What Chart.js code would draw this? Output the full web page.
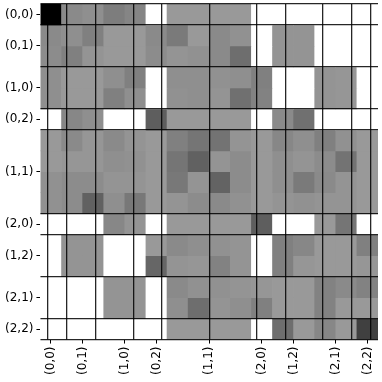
<!DOCTYPE html>
<html>
<head>
<meta charset="utf-8">
<script src="https://cdn.jsdelivr.net/npm/chart.js@4.4.1/dist/chart.umd.min.js"></script>
<style>
  html, body { margin: 0; padding: 0; background: #fff; }
  #wrap { width: 382px; height: 382px; }
</style>
</head>
<body>
<div id="wrap"><canvas id="matrix"></canvas></div>
<script>
// block labels and how many rows/cols each block spans
const blockLabels = ['(0,0)', '(0,1)', '(1,0)', '(0,2)', '(1,1)', '(2,0)', '(1,2)', '(2,1)', '(2,2)'];
const blockSizes = [1, 2, 2, 1, 4, 1, 2, 2, 1];

// cell intensities (0 = white, 1 = black), one array per row
const row0  = [1.00, 0.46, 0.44, 0.51, 0.48, 0, 0.40, 0.40, 0.40, 0.40, 0, 0, 0, 0, 0, 0];
const row1  = [0.46, 0.44, 0.50, 0.40, 0.40, 0.46, 0.52, 0.40, 0.46, 0.43, 0, 0.42, 0.42, 0, 0, 0];
const row2  = [0.45, 0.50, 0.42, 0.40, 0.40, 0.45, 0.42, 0.43, 0.46, 0.57, 0, 0.42, 0.42, 0, 0, 0];
const row3  = [0.44, 0.40, 0.40, 0.44, 0.50, 0, 0.44, 0.44, 0.43, 0.44, 0.50, 0, 0, 0.42, 0.41, 0];
const row4  = [0.44, 0.40, 0.40, 0.50, 0.44, 0, 0.43, 0.44, 0.42, 0.56, 0.49, 0, 0, 0.42, 0.41, 0];
const row5  = [0, 0.47, 0.44, 0, 0, 0.63, 0.40, 0.40, 0.40, 0.40, 0, 0.46, 0.56, 0, 0, 0];
const row6  = [0.40, 0.46, 0.41, 0.46, 0.42, 0.40, 0.50, 0.54, 0.55, 0.42, 0.40, 0.47, 0.44, 0.50, 0.43, 0.40];
const row7  = [0.40, 0.41, 0.41, 0.44, 0.43, 0.40, 0.54, 0.62, 0.42, 0.45, 0.40, 0.44, 0.42, 0.45, 0.55, 0.40];
const row8  = [0.43, 0.45, 0.45, 0.42, 0.42, 0.40, 0.53, 0.42, 0.61, 0.45, 0.40, 0.44, 0.52, 0.46, 0.42, 0.40];
const row9  = [0.43, 0.45, 0.62, 0.44, 0.53, 0.40, 0.42, 0.45, 0.46, 0.43, 0.40, 0.42, 0.43, 0.42, 0.42, 0.40];
const row10 = [0, 0, 0, 0.47, 0.42, 0, 0.40, 0.40, 0.40, 0.40, 0.63, 0, 0, 0.40, 0.54, 0];
const row11 = [0, 0.42, 0.42, 0, 0, 0.40, 0.46, 0.44, 0.43, 0.42, 0, 0.50, 0.47, 0.40, 0.40, 0.50];
const row12 = [0, 0.42, 0.42, 0, 0, 0.60, 0.42, 0.41, 0.49, 0.42, 0, 0.50, 0.41, 0.40, 0.40, 0.41];
const row13 = [0, 0, 0, 0.42, 0.42, 0, 0.46, 0.43, 0.43, 0.42, 0.41, 0.40, 0.40, 0.49, 0.46, 0.49];
const row14 = [0, 0, 0, 0.42, 0.42, 0, 0.44, 0.57, 0.42, 0.44, 0.50, 0.40, 0.40, 0.49, 0.40, 0.40];
const row15 = [0, 0, 0, 0, 0, 0, 0.40, 0.40, 0.40, 0.40, 0, 0.57, 0.40, 0.47, 0.40, 0.75];

const rows = [row0, row1, row2, row3, row4, row5, row6, row7, row8, row9,
              row10, row11, row12, row13, row14, row15];
const n = rows.length;

// block edges and centres in cell units
const edges = [0];
const centres = [];
blockSizes.forEach(s => {
    const start = edges[edges.length - 1];
    centres.push(start + s / 2);
    edges.push(start + s);
});

// gray_r colormap
function grayColor(v) {
    const g = Math.round(255 * (1 - v));
    return 'rgb(' + g + ',' + g + ',' + g + ')';
}

const datasets = rows.map((vals, r) => ({
    data: vals.map((v, c) => ({ x: c + 0.5, y: [r, r + 1] })),
    backgroundColor: vals.map(grayColor),
    borderWidth: 0,
    borderSkipped: false,
    grouped: false,
    barPercentage: 1,
    categoryPercentage: 1
}));

const font = { family: 'DejaVu Sans', size: 12 };
const lineColor = 'rgba(0,0,0,0.85)';

// labels sit at block centres, so no extra room is needed at the ends
function noEdgePadding(axis) {
    axis.paddingTop = 0;
    axis.paddingBottom = 0;
    axis.paddingLeft = 0;
    axis.paddingRight = 0;
}

new Chart(document.getElementById('matrix'), {
    type: 'bar',
    data: { datasets: datasets },
    options: {
        responsive: true,
        maintainAspectRatio: false,
        animation: false,
        layout: { padding: { left: 2, right: 4, top: 4, bottom: 4 } },
        plugins: { legend: { display: false }, tooltip: { enabled: false } },
        scales: {
            x: {
                type: 'linear',
                min: 0, max: n,
                offset: false,
                afterBuildTicks: axis => { axis.ticks = centres.map(v => ({ value: v })); },
                afterFit: noEdgePadding,
                ticks: {
                    autoSkip: false,
                    minRotation: 90, maxRotation: 90,
                    padding: 3,
                    color: '#000',
                    font: font,
                    callback: (v, i) => blockLabels[i]
                },
                grid: { drawOnChartArea: false, drawTicks: true, tickLength: 4, color: '#000', offset: false },
                border: { display: false }
            },
            y: {
                type: 'linear',
                min: 0, max: n,
                reverse: true,
                afterBuildTicks: axis => { axis.ticks = centres.map(v => ({ value: v })); },
                afterFit: noEdgePadding,
                ticks: {
                    autoSkip: false,
                    padding: 3,
                    color: '#000',
                    font: font,
                    callback: (v, i) => blockLabels[i]
                },
                grid: { drawOnChartArea: false, drawTicks: true, tickLength: 4, color: '#000' },
                border: { display: false }
            },
            // block separators
            x2: {
                type: 'linear',
                position: 'top',
                min: 0, max: n,
                afterBuildTicks: axis => { axis.ticks = edges.map(v => ({ value: v })); },
                afterFit: noEdgePadding,
                ticks: { display: false },
                grid: { drawTicks: false, color: lineColor, lineWidth: 1.3, z: 1 },
                border: { display: false }
            },
            y2: {
                type: 'linear',
                position: 'right',
                min: 0, max: n,
                reverse: true,
                afterBuildTicks: axis => { axis.ticks = edges.map(v => ({ value: v })); },
                afterFit: noEdgePadding,
                ticks: { display: false },
                grid: { drawTicks: false, color: lineColor, lineWidth: 1.3, z: 1 },
                border: { display: false }
            }
        }
    }
});
</script>
</body>
</html>
